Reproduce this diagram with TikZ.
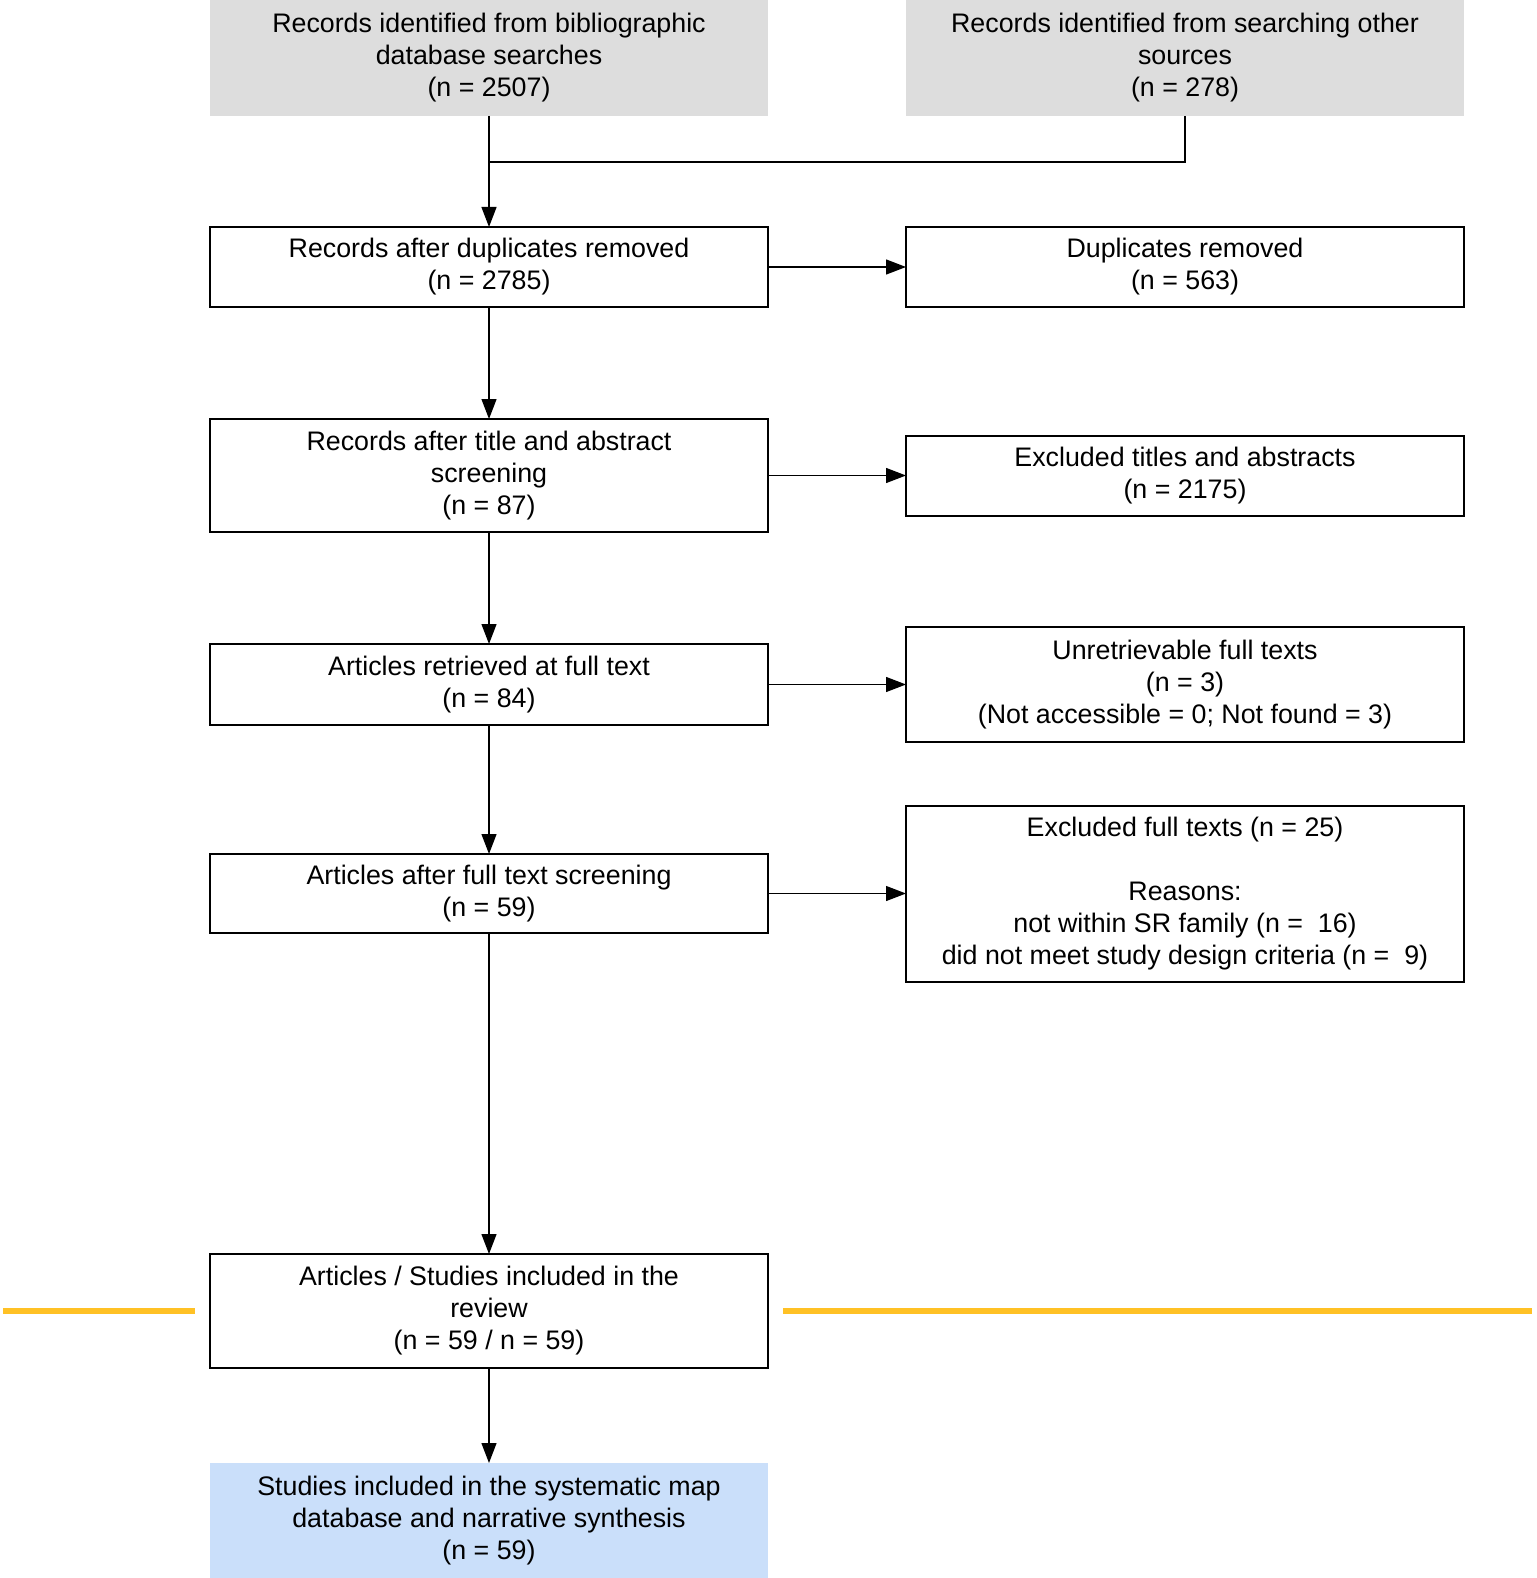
\documentclass[tikz,border=0pt]{standalone}
\usepackage{fontspec}
\setmainfont{Liberation Sans}
\usetikzlibrary{positioning, arrows.meta}

\definecolor{srcgray}{RGB}{221,221,221}
\definecolor{mapblue}{RGB}{202,223,250}
\definecolor{divider}{RGB}{255,193,37}

\begin{document}
\begin{tikzpicture}[
    node distance=56pt and 69pt,
    every node/.style={minimum width=279pt, align=center, inner sep=3pt, outer sep=0pt,
        font=\fontsize{13.4}{16}\selectfont},
    source/.style={fill=srcgray, minimum height=58pt},
    stage/.style={draw=black, line width=1pt, minimum height=40pt},
    stagetall/.style={stage, minimum height=57pt},
    result/.style={fill=mapblue, minimum height=57.5pt},
    arrow/.style={-{Triangle[length=10pt, width=7.5pt]}, line width=0.65pt},
    link/.style={line width=0.65pt},
    split/.style={divider, line width=3pt}
]
\useasboundingbox (0,0) rectangle (768pt,-789pt);

% Identification
\node[source] (dbsearch) at (244.5pt,-29pt) {Records identified from bibliographic\\database searches\\(n = 2507)};
\node[source, right=of dbsearch] (othersearch) {Records identified from searching other\\sources\\(n = 278)};

% Screening
\node[stage, below=55.5pt of dbsearch] (dedup) {Records after duplicates removed\\(n = 2785)};
\node[stage, right=of dedup] (dupes) {Duplicates removed\\(n = 563)};

\node[stagetall, minimum height=56.5pt, below=of dedup] (tiab) {Records after title and abstract\\screening\\(n = 87)};
\node[stage, right=of tiab] (tiabout) {Excluded titles and abstracts\\(n = 2175)};

% Eligibility
\node[stage, minimum height=40.5pt, below=of tiab] (retrieved) {Articles retrieved at full text\\(n = 84)};
\node[stagetall, minimum height=57.5pt, right=of retrieved] (unretr) {Unretrievable full texts\\(n = 3)\\(Not accessible = 0; Not found = 3)};

\node[stage, minimum height=39.5pt, below=64.5pt of retrieved] (fulltext) {Articles after full text screening\\(n = 59)};
\node[stage, minimum height=88pt, right=of fulltext] (ftout) {Excluded full texts (n = 25)\\[16pt]Reasons:\\not within SR family (n =\ \ 16)\\did not meet study design criteria (n =\ \ 9)};

% Included
\node[stagetall, below=160.5pt of fulltext] (included) {Articles / Studies included in the\\review\\(n = 59 / n = 59)};
\node[result, below=47.5pt of included] (mapdb) {Studies included in the systematic map\\database and narrative synthesis\\(n = 59)};

% Merge of the two sources
\coordinate (merge) at ([yshift=-23pt]dbsearch.south);
\draw[link] (othersearch.south) |- (merge);
\draw[arrow] (dbsearch.south) -- (dedup.north);

% Main flow
\draw[arrow] (dedup) -- (tiab);
\draw[arrow] (tiab) -- (retrieved);
\draw[arrow] (retrieved) -- (fulltext);
\draw[arrow] (fulltext) -- (included);
\draw[arrow] (included) -- (mapdb);

% Exclusions
\draw[arrow] (dedup) -- (dupes);
\draw[arrow] (tiab) -- (tiabout);
\draw[arrow] (retrieved) -- (unretr);
\draw[arrow] (fulltext) -- (ftout);

% Divider
\coordinate (splitL) at ([xshift=-7.75pt]included.west);
\coordinate (splitR) at ([xshift=7.5pt]included.east);
\draw[split] (splitL) -- (splitL -| 1.5pt,0);
\draw[split] (splitR) -- (splitR -| 766pt,0);

\end{tikzpicture}
\end{document}
